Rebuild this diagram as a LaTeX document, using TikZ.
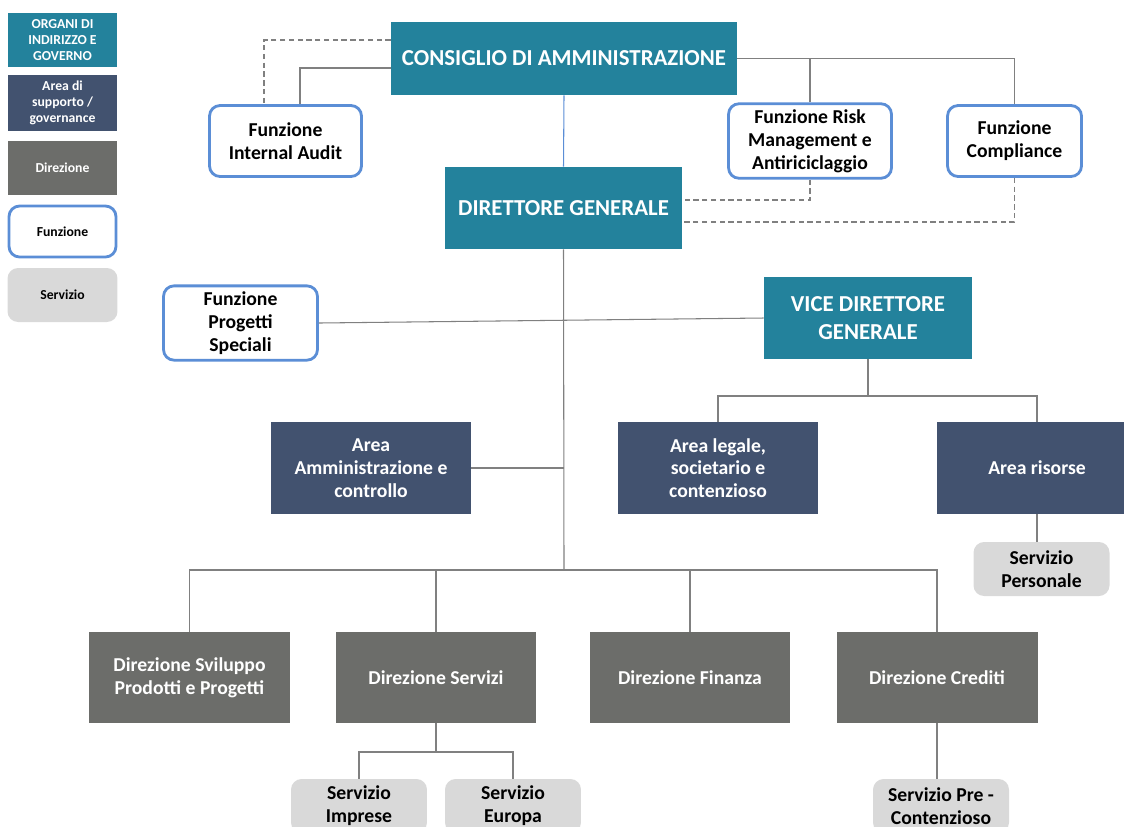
\documentclass[tikz,border=0pt]{standalone}
\usepackage{fontspec}
\setmainfont{Carlito}
\usepackage{xcolor}
\usepackage{tikz}
\usetikzlibrary{positioning}

\definecolor{organi}{HTML}{23829C}
\definecolor{areaclr}{HTML}{42526F}
\definecolor{direz}{HTML}{6C6D6A}
\definecolor{funz}{HTML}{5B8ED6}
\definecolor{serv}{HTML}{D9D9D9}
\definecolor{linea}{HTML}{808080}

\begin{document}
\begin{tikzpicture}[
    x=0.02cm, y=-0.02cm,
    orgbox/.style={rectangle, fill=organi, text=white, align=center, inner sep=2pt, font=\fontsize{11.2}{13}\selectfont\bfseries},
    areabox/.style={rectangle, fill=areaclr, text=white, align=center, minimum width=4cm, minimum height=1.84cm, font=\fontsize{11.2}{13}\selectfont\bfseries},
    dirbox/.style={rectangle, fill=direz, text=white, align=center, minimum width=4.02cm, minimum height=1.82cm, font=\fontsize{11.2}{13}\selectfont\bfseries},
    funbox/.style={rectangle, draw=funz, line width=1.6pt, fill=white, rounded corners=6pt, align=center, minimum height=1.42cm, font=\fontsize{11.2}{13}\selectfont\bfseries},
    servbox/.style={rectangle, fill=serv, rounded corners=6pt, align=center, minimum width=2.72cm, minimum height=1.08cm, font=\fontsize{11.2}{13}\selectfont\bfseries},
    legend/.style={minimum width=2.2cm, minimum height=1.08cm, font=\fontsize{7.8}{9.2}\selectfont\bfseries},
    link/.style={draw=linea, line width=0.6pt},
    dlink/.style={draw=linea, line width=0.6pt, dashed, dash pattern=on 3pt off 2pt}
]
    \useasboundingbox (0,0) rectangle (1124,826);
    \clip (0,0) rectangle (1124,826);

    \node (lorg) [orgbox, legend] at (62.5,40) {ORGANI DI\\INDIRIZZO E\\GOVERNO};
    \node (larea) [areabox, legend] at (62.5,103) {Area di\\supporto /\\governance};
    \node (ldir) [dirbox, legend] at (62.5,168) {Direzione};
    \node (lfun) [funbox, legend, minimum width=2.14cm, minimum height=1.02cm] at (62.5,231.5) {Funzione};
    \node (lserv) [servbox, legend] at (62.5,295) {Servizio};

    \node (cda) [orgbox, minimum width=6.92cm, minimum height=1.46cm, font=\fontsize{13}{15}\selectfont\bfseries] at (564,58.5) {CONSIGLIO DI AMMINISTRAZIONE};
    \node (dg) [orgbox, minimum width=4.74cm, minimum height=1.64cm, font=\fontsize{13}{15}\selectfont\bfseries] at (563.5,208) {DIRETTORE GENERALE};
    \node (vdg) [orgbox, minimum width=4.16cm, minimum height=1.64cm, font=\fontsize{13}{16}\selectfont\bfseries] at (868,318) {VICE DIRETTORE\\GENERALE};

    \node (ia) [funbox, minimum width=3.04cm] at (285.5,141) {Funzione\\Internal Audit};
    \node (risk) [funbox, minimum width=3.26cm] at (810,141) {Funzione Risk\\Management e\\Antiriciclaggio};
    \node (comp) [funbox, minimum width=2.68cm] at (1014.5,141) {Funzione\\Compliance};
    \node (ps) [funbox, minimum width=3.08cm, minimum height=1.38cm] at (240.5,323) {Funzione\\Progetti\\Speciali};

    \node (aac) [areabox] at (371,468) {Area\\Amministrazione e\\controllo};
    \node (alsc) [areabox] at (718,468) {Area legale,\\societario e\\contenzioso};
    \node (ar) [areabox] at (1037,468) {Area risorse};
    \node (sp) [servbox] at (1041.5,569) {Servizio\\Personale};

    \node (dsp) [dirbox] at (189.5,677.5) {Direzione Sviluppo\\Prodotti e Progetti};
    \node (dse) [dirbox] at (436,677.5) {Direzione Servizi};
    \node (dfi) [dirbox] at (690,677.5) {Direzione Finanza};
    \node (dcr) [dirbox] at (937,677.5) {Direzione Crediti};

    \node (sim) [servbox] at (359,806) {Servizio\\Imprese};
    \node (seu) [servbox] at (513,806) {Servizio\\Europa};
    \node (spc) [servbox] at (941,806) {Servizio Pre -\\Contenzioso};

    \coordinate (bus) at (564,570);
    \coordinate (vsplit) at (868,396);
    \coordinate (ssplit) at (436,752);

    \draw [draw=funz, line width=0.6pt] (cda.south) -- (dg.north);
    \draw [link] ([yshift=-0.19cm]cda.west) -| ([xshift=0.29cm]ia.north);
    \draw [dlink] ([yshift=0.37cm]cda.west) -| ([xshift=-0.43cm]ia.north);
    \draw [link] (cda.east) -| (comp.north);
    \draw [link] (risk.north) -- (risk.north |- cda.east);
    \draw [dlink] (risk.south) |- ([yshift=0.16cm]dg.east);
    \draw [dlink] (comp.south) |- ([yshift=-0.28cm]dg.east);

    \draw [link] (dg.south) -- (bus);
    \draw [link] (ps.east) -- (vdg.west);
    \draw [link] (aac.east) -- (aac.east -| bus);
    \draw [link] (vdg.south) -- (vsplit);
    \draw [link] (alsc.north) |- (vsplit) -| (ar.north);
    \draw [link] (ar.south) -- (ar.south |- sp.north);
    \foreach \d in {dsp,dse,dfi,dcr}
        \draw [link] (bus) -| (\d.north);
    \draw [link] (dse.south) -- (ssplit);
    \draw [link] (sim.north) |- (ssplit) -| (seu.north);
    \draw [link] (dcr.south) -- (dcr.south |- spc.north);
\end{tikzpicture}
\end{document}
